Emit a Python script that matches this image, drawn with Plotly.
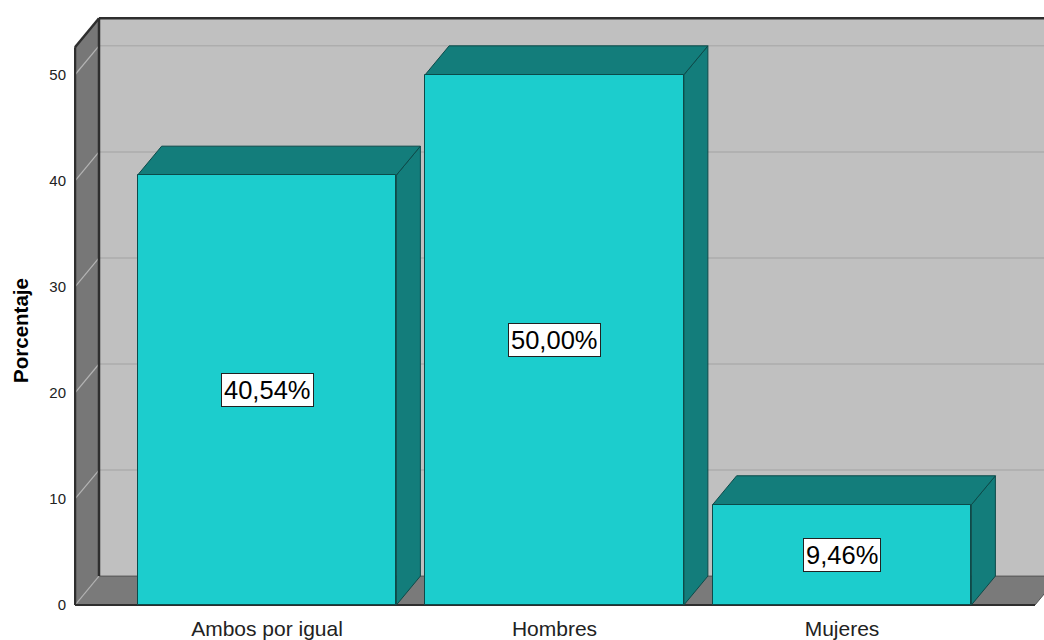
import plotly.graph_objects as go

# ---- data ----
categories = ["Ambos por igual", "Hombres", "Mujeres"]
values = [40.54, 50.00, 9.46]
y_ticks = [0, 10, 20, 30, 40, 50]
y_title = "Porcentaje"

# ---- style ----
FONT = "Liberation Sans, Arial, sans-serif"
FRONT = "#1ccdcd"
SIDE = "#137d7b"
EDGE = "#0c4a49"
WALL_BACK = "#c0c0c0"
WALL_DARK = "#777777"
FLOOR = "#7a7a7a"
GRID = "#adadad"
TICKDIAG = "#b4b4b4"
FRAME = "#2e2e2e"

PX_PER_CAT = 287.5
PX_PER_UNIT = 10.64
DX = 24 / PX_PER_CAT        # depth offset in category units
DY = 29 / PX_PER_UNIT       # depth offset in value units
BAR_W = 0.9
X_FRONT = (75 - 267) / PX_PER_CAT
Y_TOP = 52.6
X_RIGHT = (1035 - 267) / PX_PER_CAT
X_FAR = 3.2

xs = list(range(len(categories)))

fig = go.Figure()
fig.add_trace(go.Bar(
    x=xs, y=values, width=BAR_W,
    marker=dict(color=FRONT, line=dict(color=EDGE, width=1)),
    hoverinfo="skip", showlegend=False,
))

shapes = []

def path(pts):
    return "M " + " L ".join(f"{x},{y}" for x, y in pts) + " Z"

# back wall
shapes.append(dict(type="path", path=path([(X_FRONT + DX, DY), (X_FRONT + DX, Y_TOP + DY),
                                           (X_FAR, Y_TOP + DY), (X_FAR, DY)]),
                   fillcolor=WALL_BACK, line=dict(width=0)))
# left wall
shapes.append(dict(type="path", path=path([(X_FRONT, 0), (X_FRONT, Y_TOP),
                                           (X_FRONT + DX, Y_TOP + DY), (X_FRONT + DX, DY)]),
                   fillcolor=WALL_DARK, line=dict(width=0)))
# floor
shapes.append(dict(type="path", path=path([(X_FRONT, 0), (X_FRONT + DX, DY),
                                           (X_RIGHT + DX, DY), (X_RIGHT, 0)]),
                   fillcolor=FLOOR, line=dict(color="#555555", width=1)))
# gridlines
for t in y_ticks:
    shapes.append(dict(type="line", x0=X_FRONT, y0=t, x1=X_FRONT + DX, y1=t + DY,
                       line=dict(color=TICKDIAG, width=1.2)))
    if t > 0:
        shapes.append(dict(type="line", x0=X_FRONT + DX, y0=t + DY, x1=X_FAR, y1=t + DY,
                           line=dict(color=GRID, width=1.5)))
# frame edges
shapes.append(dict(type="line", x0=X_FRONT + DX, y0=Y_TOP + DY, x1=X_FAR, y1=Y_TOP + DY,
                   line=dict(color=FRAME, width=2.5)))
shapes.append(dict(type="line", x0=X_FRONT + DX, y0=DY, x1=X_FRONT + DX, y1=Y_TOP + DY,
                   line=dict(color=FRAME, width=2.5)))
shapes.append(dict(type="line", x0=X_FRONT, y0=Y_TOP, x1=X_FRONT + DX, y1=Y_TOP + DY,
                   line=dict(color=FRAME, width=2.5)))
shapes.append(dict(type="line", x0=X_FRONT, y0=0, x1=X_FRONT, y1=Y_TOP,
                   line=dict(color=FRAME, width=2.5)))
shapes.append(dict(type="line", x0=X_FRONT, y0=0, x1=X_RIGHT, y1=0,
                   line=dict(color=FRAME, width=2)))

# bar tops and sides
for x, v in zip(xs, values):
    l, r = x - BAR_W / 2, x + BAR_W / 2
    shapes.append(dict(type="path", path=path([(r, 0), (r, v), (r + DX, v + DY), (r + DX, DY)]),
                       fillcolor=SIDE, line=dict(color=EDGE, width=1)))
    shapes.append(dict(type="path", path=path([(l, v), (l + DX, v + DY), (r + DX, v + DY), (r, v)]),
                       fillcolor=SIDE, line=dict(color=EDGE, width=1)))

for s in shapes:
    s.update(xref="x", yref="y", layer="below")

annotations = []
for x, v in zip(xs, values):
    annotations.append(dict(
        x=x, y=v / 2, xref="x", yref="y",
        text=f"{v:.2f}".replace(".", ",") + "%",
        showarrow=False, bgcolor="white", bordercolor="#222222", borderwidth=1, borderpad=2,
        font=dict(family=FONT, size=25.5, color="black"),
    ))

# y-axis title
annotations.append(dict(
    x=(21 - 74) / 970, y=(610 - 332) / 610, xref="paper", yref="paper",
    xanchor="center", yanchor="middle", textangle=-90, showarrow=False,
    text=f"<b>{y_title}</b>", font=dict(family=FONT, size=20.5, color="black"),
))

fig.update_layout(
    width=1044, height=640,
    margin=dict(l=74, r=0, t=0, b=30),
    paper_bgcolor="white", plot_bgcolor="white",
    shapes=shapes, annotations=annotations,
    font=dict(family=FONT, color="#222222"),
    xaxis=dict(range=[(74 - 267) / PX_PER_CAT, (1044 - 267) / PX_PER_CAT],
               tickvals=xs, ticktext=categories, showgrid=False, zeroline=False,
               showline=False, ticks="outside", ticklen=2, tickcolor="rgba(0,0,0,0)",
               tickfont=dict(size=21, family=FONT, color="#222222")),
    yaxis=dict(range=[-3 / PX_PER_UNIT, 607 / PX_PER_UNIT], tickvals=y_ticks,
               showgrid=False, zeroline=False, showline=False,
               ticks="outside", ticklen=4, tickcolor="rgba(0,0,0,0)",
               tickfont=dict(size=15, family=FONT, color="#222222")),
    bargap=0,
)

fig.write_html("out.html")
